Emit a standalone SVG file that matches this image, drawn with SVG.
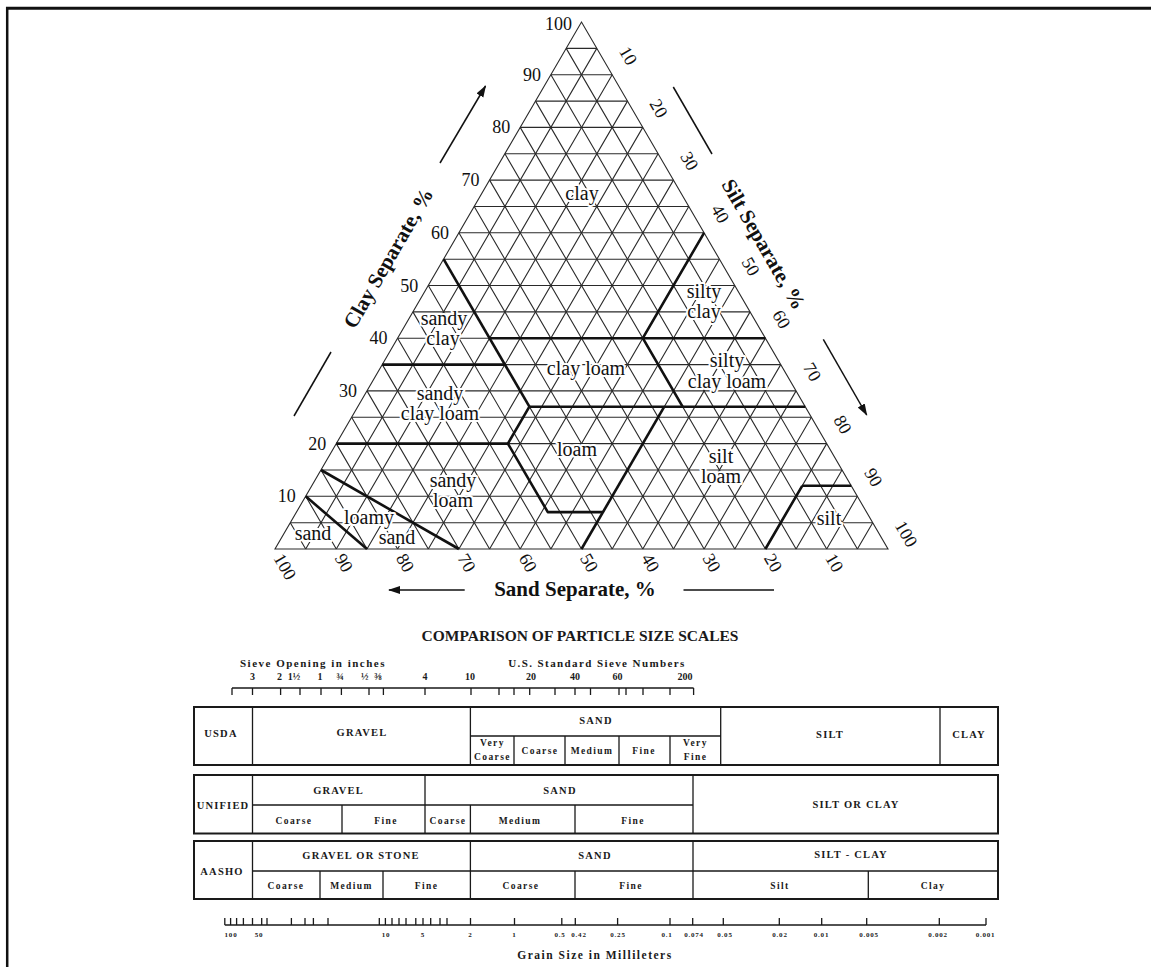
<svg xmlns="http://www.w3.org/2000/svg" width="1151" height="967" viewBox="0 0 1151 967">
<style>
.grid{stroke:#2a2a2a;stroke-width:1.1;fill:none}
.thick{stroke:#111;stroke-width:2.6;fill:none;stroke-linejoin:round}
.lbl{font-family:"Liberation Serif",serif;font-size:20px;text-anchor:middle;fill:#111;stroke:#fff;stroke-width:4px;paint-order:stroke;stroke-linejoin:round}
.num{font-family:"Liberation Serif",serif;font-size:18px;fill:#111}
.axis{font-family:"Liberation Serif",serif;font-size:21px;font-weight:bold;fill:#111;text-anchor:middle}
.arr{stroke:#111;stroke-width:1.5;fill:none}
.box{fill:none;stroke:#1a1a1a;stroke-width:2}
.dv{stroke:#1a1a1a;stroke-width:1.3;fill:none}
.ct{font-family:"Liberation Serif",serif;font-weight:bold;font-size:10.5px;letter-spacing:1.2px;text-anchor:middle;fill:#1a1a1a}
.cs{font-size:9.5px;letter-spacing:1.4px}
.tn{font-family:"Liberation Serif",serif;font-weight:bold;font-size:7px;letter-spacing:0.8px;text-anchor:middle;fill:#222}
.sv{font-family:"Liberation Serif",serif;font-weight:bold;font-size:10px;text-anchor:middle;fill:#1a1a1a}
</style>
<defs>
<marker id="ah" markerUnits="userSpaceOnUse" markerWidth="12" markerHeight="10" refX="11" refY="4" orient="auto">
<path d="M0,0 L12,4 L0,8 z" fill="#111"/>
</marker>
</defs>
<rect width="1151" height="967" fill="#fff"/>
<g id="frame">
<path d="M6 8.3H1151" stroke="#111" stroke-width="3"/>
<path d="M7.2 7V967" stroke="#111" stroke-width="2.5"/>
</g>
<g id="triangle">
<path class="grid" d="M290.3 522.7H872.7M305.7 496.3H857.4M321 470H842M336.3 443.6H826.7M351.6 417.3H811.4M367 390.9H796.1M382.3 364.6H780.7M397.6 338.2H765.4M412.9 311.9H750.1M428.3 285.5H734.8M443.6 259.2H719.4M458.9 232.8H704.1M474.2 206.5H688.8M489.6 180.1H673.5M504.9 153.8H658.1M520.2 127.4H642.8M535.5 101.1H627.5M550.9 74.7H612.2M566.2 48.4H596.8"/>
<path class="grid" d="M857.4 549L566.2 48.4M826.7 549L550.9 74.7M796.1 549L535.5 101.1M765.4 549L520.2 127.4M734.8 549L504.9 153.8M704.1 549L489.6 180.1M673.5 549L474.2 206.5M642.8 549L458.9 232.8M612.2 549L443.6 259.2M581.5 549L428.3 285.5M550.9 549L412.9 311.9M520.2 549L397.6 338.2M489.6 549L382.3 364.6M458.9 549L367 390.9M428.3 549L351.6 417.3M397.6 549L336.3 443.6M367 549L321 470M336.3 549L305.7 496.3M305.7 549L290.3 522.7"/>
<path class="grid" d="M305.7 549L596.8 48.4M336.3 549L612.2 74.7M367 549L627.5 101.1M397.6 549L642.8 127.4M428.3 549L658.1 153.8M458.9 549L673.5 180.1M489.6 549L688.8 206.5M520.2 549L704.1 232.8M550.9 549L719.4 259.2M581.5 549L734.8 285.5M612.2 549L750.1 311.9M642.8 549L765.4 338.2M673.5 549L780.7 364.6M704.1 549L796.1 390.9M734.8 549L811.4 417.3M765.4 549L826.7 443.6M796.1 549L842 470M826.7 549L857.4 496.3M857.4 549L872.7 522.7"/>
<path class="grid" stroke-width="1.4" d="M275 549L888 549L581.5 22Z"/>
</g>
<g id="boundaries">
<path class="thick" d="M443.6 259.2L529.4 406.7"/>
<path class="thick" d="M382.3 364.6H504.9"/>
<path class="thick" d="M489.6 338.2H765.4"/>
<path class="thick" d="M704.1 232.8L642.8 338.2L682.6 406.7"/>
<path class="thick" d="M529.4 406.7H805.2"/>
<path class="thick" d="M336.3 443.6H507.9"/>
<path class="thick" d="M529.4 406.7L507.9 443.6L547.8 512.1H603"/>
<path class="thick" d="M664.3 406.7L581.5 549"/>
<path class="thick" d="M802.2 485.8L765.4 549M802.2 485.8H851.2"/>
<path class="thick" d="M321 470L458.9 549"/>
<path class="thick" d="M305.7 496.3L367 549"/>
</g>
<g id="region-labels">
<text class="lbl" x="582" y="200">clay</text>
<text class="lbl" x="704" y="298">silty</text>
<text class="lbl" x="704" y="318">clay</text>
<text class="lbl" x="444" y="325">sandy</text>
<text class="lbl" x="443" y="345">clay</text>
<text class="lbl" x="586" y="375">clay loam</text>
<text class="lbl" x="727" y="367">silty</text>
<text class="lbl" x="727" y="388">clay loam</text>
<text class="lbl" x="440" y="400">sandy</text>
<text class="lbl" x="440" y="420">clay loam</text>
<text class="lbl" x="577" y="456">loam</text>
<text class="lbl" x="721" y="463">silt</text>
<text class="lbl" x="721" y="483">loam</text>
<text class="lbl" x="453" y="487">sandy</text>
<text class="lbl" x="453" y="507">loam</text>
<text class="lbl" x="369" y="524">loamy</text>
<text class="lbl" x="313" y="540">sand</text>
<text class="lbl" x="397" y="544">sand</text>
<text class="lbl" x="829" y="525">silt</text>
</g>
<g id="clay-scale" class="num" text-anchor="end">
<text x="572" y="30">100</text>
<text x="540.9" y="80.7">90</text>
<text x="510.2" y="133.4">80</text>
<text x="479.6" y="186.1">70</text>
<text x="448.9" y="238.8">60</text>
<text x="418.3" y="291.5">50</text>
<text x="387.6" y="344.2">40</text>
<text x="357" y="396.9">30</text>
<text x="326.3" y="449.6">20</text>
<text x="295.7" y="502.3">10</text>
</g>
<g id="silt-scale" class="num">
<text transform="translate(618.5 50.9) rotate(60)">10</text>
<text transform="translate(649.1 103.6) rotate(60)">20</text>
<text transform="translate(679.8 156.3) rotate(60)">30</text>
<text transform="translate(710.4 209) rotate(60)">40</text>
<text transform="translate(741 261.7) rotate(60)">50</text>
<text transform="translate(771.7 314.4) rotate(60)">60</text>
<text transform="translate(802.4 367.1) rotate(60)">70</text>
<text transform="translate(833 419.8) rotate(60)">80</text>
<text transform="translate(863.7 472.5) rotate(60)">90</text>
<text transform="translate(894.3 525.2) rotate(60)">100</text>
</g>
<g id="sand-scale" class="num">
<text transform="translate(273 558) rotate(60)">100</text>
<text transform="translate(334.3 558) rotate(60)">90</text>
<text transform="translate(395.6 558) rotate(60)">80</text>
<text transform="translate(456.9 558) rotate(60)">70</text>
<text transform="translate(518.2 558) rotate(60)">60</text>
<text transform="translate(579.5 558) rotate(60)">50</text>
<text transform="translate(640.8 558) rotate(60)">40</text>
<text transform="translate(702.1 558) rotate(60)">30</text>
<text transform="translate(763.4 558) rotate(60)">20</text>
<text transform="translate(824.7 558) rotate(60)">10</text>
</g>
<g id="axis-titles">
<text class="axis" transform="translate(388 258) rotate(-60)" dy="0.35em">Clay Separate, %</text>
<text class="axis" transform="translate(764 244) rotate(60)" dy="0.35em">Silt Separate, %</text>
<text class="axis" x="575" y="596">Sand Separate, %</text>
</g>
<g id="connectors">
<path class="arr" d="M440 163L485.5 86" marker-end="url(#ah)"/>
<path class="arr" d="M673.3 87L712 154"/>
<path class="arr" d="M331 352L294 416"/>
<path class="arr" d="M823.3 339.3L866.7 415" marker-end="url(#ah)"/>
<path class="arr" d="M464.7 590L389 590" marker-end="url(#ah)"/>
<path class="arr" d="M683.5 590H774"/>
</g>
<g id="chart-title">
<text x="580" y="640.5" font-family="Liberation Serif, serif" font-weight="bold" font-size="15.5" text-anchor="middle" fill="#1a1a1a">COMPARISON OF PARTICLE SIZE SCALES</text>
</g>
<g id="sieve-scale">
<text class="ct" x="313" y="667" style="font-size:11px;letter-spacing:1.5px">Sieve Opening in inches</text>
<text class="ct" x="597" y="667" style="font-size:11px;letter-spacing:1.4px">U.S. Standard Sieve Numbers</text>
<text class="sv" x="252.5" y="680">3</text>
<text class="sv" x="279.6" y="680">2</text>
<text class="sv" x="294" y="680">1½</text>
<text class="sv" x="320" y="680">1</text>
<text class="sv" x="340" y="680">¾</text>
<text class="sv" x="364.7" y="680">½</text>
<text class="sv" x="378" y="680">⅜</text>
<text class="sv" x="425" y="680">4</text>
<text class="sv" x="470" y="680">10</text>
<text class="sv" x="531" y="680">20</text>
<text class="sv" x="575" y="680">40</text>
<text class="sv" x="617.6" y="680">60</text>
<text class="sv" x="685" y="680">200</text>
<path class="dv" d="M232 688H693.6M232 688V695M252.5 688V695M280.6 688V695M300 688V695M321 688V695M341.4 688V695M369 688V695M383.4 688V695M425 688V695M471 688V695M499 688V695M514 688V695M529.7 688V695M555 688V695M575 688V695M590.5 688V695M619 688V695M626 688V695M643 688V695M670 688V695M693.6 688V695"/>
</g>
<g id="row-usda">
<rect class="box" x="194" y="707" width="804" height="58"/>
<path class="dv" d="M252.5 707V765M470.4 707V765M720.7 707V765M940 707V765M470.4 736H720.7M514 736V765M565 736V765M619 736V765M670 736V765"/>
<text class="ct" x="221" y="737">USDA</text>
<text class="ct" x="362" y="736">GRAVEL</text>
<text class="ct" x="596" y="724">SAND</text>
<text class="ct cs" x="492.5" y="745.5">Very</text>
<text class="ct cs" x="492.5" y="760">Coarse</text>
<text class="ct cs" x="540" y="754">Coarse</text>
<text class="ct cs" x="592" y="754">Medium</text>
<text class="ct cs" x="644" y="754">Fine</text>
<text class="ct cs" x="695.5" y="745.5">Very</text>
<text class="ct cs" x="695.5" y="760">Fine</text>
<text class="ct" x="830" y="738">SILT</text>
<text class="ct" x="969" y="738">CLAY</text>
</g>
<g id="row-unified">
<rect class="box" x="194" y="775" width="804" height="58.5"/>
<path class="dv" d="M252.5 775V833.5M425 775V833.5M693 775V833.5M252.5 805H693M342 805V833.5M470.4 805V833.5M575 805V833.5"/>
<text class="ct" x="223" y="809">UNIFIED</text>
<text class="ct" x="338.6" y="794">GRAVEL</text>
<text class="ct" x="560" y="794">SAND</text>
<text class="ct cs" x="294" y="823.5">Coarse</text>
<text class="ct cs" x="386" y="823.5">Fine</text>
<text class="ct cs" x="448" y="823.5">Coarse</text>
<text class="ct cs" x="520" y="823.5">Medium</text>
<text class="ct cs" x="633" y="823.5">Fine</text>
<text class="ct" x="856" y="807.5">SILT OR CLAY</text>
</g>
<g id="row-aasho">
<rect class="box" x="194" y="841" width="804" height="58"/>
<path class="dv" d="M252.5 841V899M470.4 841V899M693 841V899M252.5 871H998M320 871V899M383 871V899M575 871V899M868.3 871V899"/>
<text class="ct" x="222" y="875">AASHO</text>
<text class="ct" x="361" y="859">GRAVEL OR STONE</text>
<text class="ct" x="595" y="859">SAND</text>
<text class="ct" x="851" y="858">SILT - CLAY</text>
<text class="ct cs" x="286" y="889">Coarse</text>
<text class="ct cs" x="351.5" y="889">Medium</text>
<text class="ct cs" x="426.5" y="889">Fine</text>
<text class="ct cs" x="521" y="889">Coarse</text>
<text class="ct cs" x="631" y="889">Fine</text>
<text class="ct cs" x="780" y="889">Silt</text>
<text class="ct cs" x="933" y="889">Clay</text>
</g>
<g id="grain-scale">
<path class="dv" d="M224.8 925H986M224.8 925V918M230.6 925V918M236.6 925V918M243.4 925V918M252.5 925V918M261.7 925V918M267 925V918M291.4 925V918M305 925V918M313.4 925V918M328 925V918M379.3 925V918M385.4 925V918M392 925V918M399 925V918M406 925V918M415.8 925V918M423 925V918M430.7 925V918M440 925V918M447 925V918M470.5 925V918M514.5 925V918M561.8 925V918M575.3 925V918M617.6 925V918M670 925V918M692.7 925V918M723.3 925V918M779.3 925V918M821.7 925V918M866.7 925V918M939.3 925V918M986 925V918"/>
<text class="tn" x="231" y="937">100</text>
<text class="tn" x="259" y="937">50</text>
<text class="tn" x="386" y="937">10</text>
<text class="tn" x="423" y="937">5</text>
<text class="tn" x="470.5" y="937">2</text>
<text class="tn" x="514.5" y="937">1</text>
<text class="tn" x="560" y="937">0.5</text>
<text class="tn" x="579" y="937">0.42</text>
<text class="tn" x="618" y="937">0.25</text>
<text class="tn" x="667" y="937">0.1</text>
<text class="tn" x="694" y="937">0.074</text>
<text class="tn" x="725" y="937">0.05</text>
<text class="tn" x="780" y="937">0.02</text>
<text class="tn" x="821.5" y="937">0.01</text>
<text class="tn" x="869" y="937">0.005</text>
<text class="tn" x="938" y="937">0.002</text>
<text class="tn" x="985.5" y="937">0.001</text>
<text class="ct" x="595" y="959" style="font-size:11.5px;letter-spacing:1.5px">Grain Size in Millileters</text>
</g>
</svg>
